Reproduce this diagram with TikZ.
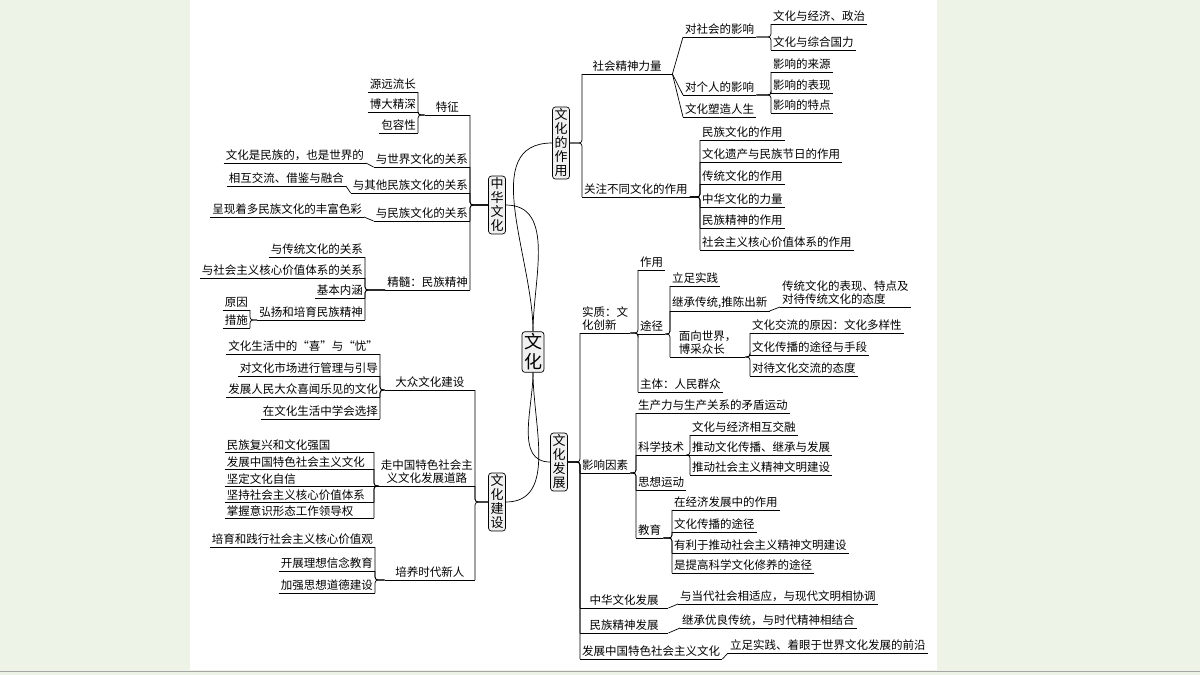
\documentclass[tikz,border=0pt]{standalone}
\usepackage{fontspec}
\setmainfont{Noto Sans CJK SC}
\usetikzlibrary{positioning}

\tikzset{
  leaf/.style = {inner xsep=2pt, inner ysep=2pt, font=\fontsize{11.5}{13}\selectfont,
    append after command={(\tikzlastnode.south west) edge[line width=0.7pt] (\tikzlastnode.south east)}},
  L/.style = {leaf, anchor=south east},
  R/.style = {leaf, anchor=south west},
  box/.style = {draw, line width=0.7pt, rounded corners=3pt, fill=gray!12, inner sep=2pt,
    align=center, font=\fontsize{13}{14}\selectfont},
  link/.style = {line width=0.7pt, rounded corners=3pt},
}
\definecolor{side}{HTML}{EDF3E6}

\begin{document}
\begin{tikzpicture}[x=1pt, y=-1pt]
\useasboundingbox (0,0) rectangle (1200,675);
\fill[side] (0,0) rectangle (1200,675);
\fill[white] (190,0) rectangle (937,670);
\draw[gray!70, line width=1pt] (0,671) -- (1200,671);

% centre and main branches
\node [box, font=\fontsize{18}{20}\selectfont] (wh) at (533,352) {文\\化};
\node [box] (zh) at (497,205) {中\\华\\文\\化};
\node [box] (js) at (497,502) {文\\化\\建\\设};
\node [box] (zy) at (561,143) {文\\化\\的\\作\\用};
\node [box] (fz) at (559,462) {文\\化\\发\\展};
\draw [link] (wh.north) to [out=90, in=0] (zh.east);
\draw [link] (wh.north) to [out=90, in=180] (zy.west);
\draw [link] (wh.south) to [out=-90, in=0] (js.east);
\draw [link] (wh.south) to [out=-90, in=180] (fz.west);

% 中华文化
\node [L, minimum width=45] (tz) at (470,115) {特征};
\node [L] (sj) at (470,167) {与世界文化的关系};
\node [L] (qt) at (470,193) {与其他民族文化的关系};
\node [L] (mzgx) at (470,221) {与民族文化的关系};
\node [L] (jh) at (470,290) {精髓：民族精神};
\foreach \c in {tz,sj,qt,mzgx,jh} \draw [link] (zh.west) -| (\c.south east);

\node [L] (tz1) at (418,92) {源远流长};
\node [L] (tz2) at (418,112) {博大精深};
\node [L] (tz3) at (418,133) {包容性};
\foreach \c in {tz1,tz2,tz3} \draw [link] (tz.south west) -| (\c.south east);

\node [L] (sj1) at (366,163) {文化是民族的，也是世界的};
\draw [link] (sj.south west) -- (sj1.south east);
\node [L] (qt1) at (346,186) {相互交流、借鉴与融合};
\draw [link] (qt.south west) -- (qt1.south east);
\node [L] (mz1) at (364,217) {呈现着多民族文化的丰富色彩};
\draw [link] (mzgx.south west) -- (mz1.south east);

\node [L] (jh1) at (365,257) {与传统文化的关系};
\node [L] (jh2) at (365,278) {与社会主义核心价值体系的关系};
\node [L] (jh3) at (365,298) {基本内涵};
\node [L] (jh4) at (365,320) {弘扬和培育民族精神};
\foreach \c in {jh1,jh2,jh3,jh4} \draw [link] (jh.south west) -| (\c.south east);
\node [L] (yy) at (250,310) {原因};
\node [L] (cs) at (250,328) {措施};
\foreach \c in {yy,cs} \draw [link] (jh4.south west) -| (\c.south east);

% 文化建设
\node [L, minimum width=90] (dz) at (475,390) {大众文化建设};
\node [L, align=center] (zg) at (475,486) {走中国特色社会主\\义文化发展道路};
\node [L, minimum width=90] (py) at (475,580) {培养时代新人};
\foreach \c in {dz,zg,py} \draw [link] (js.west) -| (\c.south east);

\node [L] (dz1) at (380,354) {文化生活中的“喜”与“忧”};
\node [L] (dz2) at (380,376) {对文化市场进行管理与引导};
\node [L] (dz3) at (380,397) {发展人民大众喜闻乐见的文化};
\node [L] (dz4) at (380,419) {在文化生活中学会选择};
\foreach \c in {dz1,dz2,dz3,dz4} \draw [link] (dz.south west) -| (\c.south east);

\node [L, text width=145, align=left, inner ysep=1pt] (zg1) at (374,452) {民族复兴和文化强国};
\node [L, text width=145, align=left, inner ysep=1pt] (zg2) at (374,469) {发展中国特色社会主义文化};
\node [L, text width=145, align=left, inner ysep=1pt] (zg3) at (374,486) {坚定文化自信};
\node [L, text width=145, align=left, inner ysep=1pt] (zg4) at (374,502) {坚持社会主义核心价值体系};
\node [L, text width=145, align=left, inner ysep=1pt] (zg5) at (374,518) {掌握意识形态工作领导权};
\foreach \c in {zg1,zg2,zg4,zg5} \draw [link] (zg.south west) -| (\c.south east);
\draw [link] (zg.south west) -- (zg3.south east);

\node [L] (py1) at (375,547) {培育和践行社会主义核心价值观};
\node [L] (py2) at (375,571) {开展理想信念教育};
\node [L] (py3) at (375,593) {加强思想道德建设};
\foreach \c in {py1,py2,py3} \draw [link] (py.south west) -| (\c.south east);

% 文化的作用
\node [R, minimum width=90] (sh) at (582,74) {社会精神力量};
\node [R] (gz) at (582,197) {关注不同文化的作用};
\foreach \c in {sh,gz} \draw [link] (zy.east) -| (\c.south west);

\node [R] (sh1) at (683,37) {对社会的影响};
\node [R] (sh2) at (683,95) {对个人的影响};
\node [R] (sh3) at (683,117) {文化塑造人生};
\foreach \c in {sh1,sh2,sh3} \draw [link] (sh.south east) -- (\c.south west);

\node [R] (shh1) at (771,24) {文化与经济、政治};
\node [R] (shh2) at (771,50) {文化与综合国力};
\foreach \c in {shh1,shh2} \draw [link] (sh1.south east) -| (\c.south west);
\node [R] (gr1) at (771,72) {影响的来源};
\node [R] (gr2) at (771,93) {影响的表现};
\node [R] (gr3) at (771,113) {影响的特点};
\foreach \c in {gr1,gr2,gr3} \draw [link] (sh2.south east) -| (\c.south west);

\node [R] (gz1) at (700,140) {民族文化的作用};
\node [R] (gz2) at (700,162) {文化遗产与民族节日的作用};
\node [R] (gz3) at (700,184) {传统文化的作用};
\node [R] (gz4) at (700,207) {中华文化的力量};
\node [R] (gz5) at (700,228) {民族精神的作用};
\node [R] (gz6) at (700,250) {社会主义核心价值体系的作用};
\foreach \c in {gz1,gz2,gz3,gz4,gz5,gz6} \draw [link] (gz.south east) -| (\c.south west);

% 文化发展
\node [R, align=left] (sz) at (580,333) {实质：文\\化创新};
\node [R] (yx) at (580,473) {影响因素};
\node [R, minimum width=88] (zhfz) at (580,608) {中华文化发展};
\node [R, minimum width=88] (mzfz) at (580,633) {民族精神发展};
\node [R] (tsfz) at (580,659) {发展中国特色社会主义文化};
\foreach \c in {sz,yx,zhfz,mzfz,tsfz} \draw [link] (fz.east) -| (\c.south west);

\node [R] (zy1) at (638,270) {作用};
\node [R] (tj) at (638,334) {途径};
\node [R] (zt) at (638,392) {主体：人民群众};
\foreach \c in {zy1,tj,zt} \draw [link] (sz.south east) -| (\c.south west);

\node [R] (tj1) at (670,286) {立足实践};
\node [R] (tj2) at (670,311) {继承传统,推陈出新};
\node [R, align=left, minimum width=75] (tj3) at (670,357) {面向世界，\\博采众长};
\foreach \c in {tj1,tj2,tj3} \draw [link] (tj.south east) -| (\c.south west);
\node [R, align=left] (cc) at (780,307) {传统文化的表现、特点及\\对待传统文化的态度};
\draw [link] (tj2.south east) -- (cc.south west);
\node [R] (mx1) at (750,333) {文化交流的原因：文化多样性};
\node [R] (mx2) at (750,355) {文化传播的途径与手段};
\node [R] (mx3) at (750,376) {对待文化交流的态度};
\foreach \c in {mx1,mx2,mx3} \draw [link] (tj3.south east) -| (\c.south west);

\node [R] (yx1) at (636,413) {生产力与生产关系的矛盾运动};
\node [R] (kx) at (636,455) {科学技术};
\node [R] (sx) at (636,490) {思想运动};
\node [R] (jy) at (636,538) {教育};
\foreach \c in {yx1,kx,sx,jy} \draw [link] (yx.south east) -| (\c.south west);

\node [R] (kx1) at (690,435) {文化与经济相互交融};
\node [R] (kx2) at (690,455) {推动文化传播、继承与发展};
\node [R] (kx3) at (690,475) {推动社会主义精神文明建设};
\foreach \c in {kx1,kx3} \draw [link] (kx.south east) -| (\c.south west);
\draw [link] (kx.south east) -- (kx2.south west);

\node [R] (jy1) at (672,510) {在经济发展中的作用};
\node [R] (jy2) at (672,532) {文化传播的途径};
\node [R] (jy3) at (672,553) {有利于推动社会主义精神文明建设};
\node [R] (jy4) at (672,573) {是提高科学文化修养的途径};
\foreach \c in {jy1,jy2,jy3,jy4} \draw [link] (jy.south east) -| (\c.south west);

\node [R] (zhfz1) at (678,604) {与当代社会相适应，与现代文明相协调};
\draw [link] (zhfz.south east) -- (zhfz1.south west);
\node [R] (mzfz1) at (680,628) {继承优良传统，与时代精神相结合};
\draw [link] (mzfz.south east) -- (mzfz1.south west);
\node [R] (tsfz1) at (728,653) {立足实践、着眼于世界文化发展的前沿};
\draw [link] (tsfz.south east) -- (tsfz1.south west);

\end{tikzpicture}
\end{document}
